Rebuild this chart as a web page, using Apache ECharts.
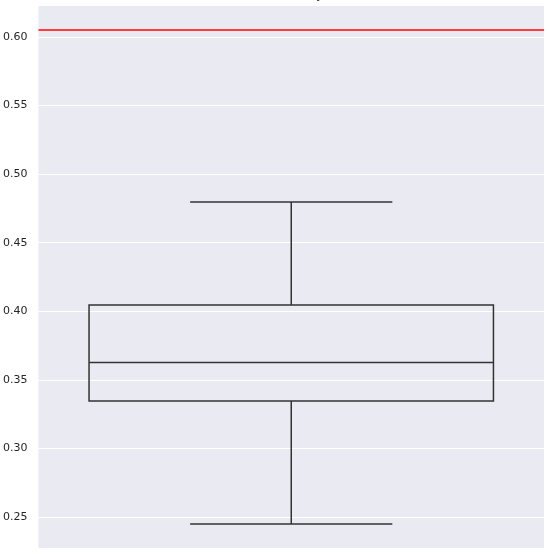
<!DOCTYPE html>
<html><head><meta charset="utf-8">
<script src="https://cdn.jsdelivr.net/npm/echarts@6/dist/echarts.min.js"></script>
<style>html,body{margin:0;padding:0;background:#fff}#c{width:549px;height:556px}</style>
</head><body><div id="c"></div>
<script>
const titleText = 'Accuracy';
const categories = ['accuracy'];
const boxStats = [[0.2449, 0.3346, 0.3626, 0.4046, 0.4797]]; // min, Q1, median, Q3, max
const referenceLine = 0.6051;
const yRange = [0.2274, 0.6226];

const boxData = boxStats.map((s, i) => [i].concat(s));
const lineStyleBox = {stroke: '#333333', lineWidth: 1.5, fill: null};

function renderBox(params, api) {
  const x = api.value(0);
  const band = api.size([1, 0])[0];
  const pMin = api.coord([x, api.value(1)]);
  const pQ1 = api.coord([x, api.value(2)]);
  const pMed = api.coord([x, api.value(3)]);
  const pQ3 = api.coord([x, api.value(4)]);
  const pMax = api.coord([x, api.value(5)]);
  const cx = pMed[0];
  const hw = band * 0.4;
  const cw = band * 0.2;
  const line = (x1, y1, x2, y2) => ({type: 'line', shape: {x1, y1, x2, y2}, style: lineStyleBox});
  return {
    type: 'group',
    children: [
      {type: 'rect', shape: {x: cx - hw, y: pQ3[1], width: 2 * hw, height: pQ1[1] - pQ3[1]}, style: lineStyleBox},
      line(cx - hw, pMed[1], cx + hw, pMed[1]),
      line(cx, pQ3[1], cx, pMax[1]),
      line(cx, pQ1[1], cx, pMin[1]),
      line(cx - cw, pMax[1], cx + cw, pMax[1]),
      line(cx - cw, pMin[1], cx + cw, pMin[1])
    ]
  };
}

function renderRefLine(params, api) {
  const cs = params.coordSys;
  const y = api.coord([0, api.value(0)])[1];
  return {type: 'line', shape: {x1: cs.x, y1: y, x2: cs.x + cs.width, y2: y},
          style: {stroke: '#ff3d3d', lineWidth: 2}};
}

const chart = echarts.init(document.getElementById('c'), null, {renderer: 'canvas'});
chart.setOption({
  backgroundColor: '#ffffff',
  animation: false,
  title: {
    text: titleText, left: 291, top: -16, textAlign: 'center',
    textStyle: {fontFamily: 'DejaVu Sans', fontSize: 12, fontWeight: 'normal', color: '#262626'}
  },
  grid: {left: 38, right: 5, top: 6, bottom: 8, show: true, backgroundColor: '#EAEAF2', borderWidth: 0},
  xAxis: {
    type: 'category', data: categories,
    axisLine: {show: false}, axisTick: {show: false}, axisLabel: {show: false}, splitLine: {show: false}
  },
  yAxis: {
    type: 'value', min: yRange[0], max: yRange[1], splitNumber: 8, minInterval: 0.05, maxInterval: 0.05,
    axisLine: {show: false}, axisTick: {show: false},
    axisLabel: {
      showMinLabel: false, showMaxLabel: false, margin: 11,
      fontFamily: 'DejaVu Sans', fontSize: 11, color: '#262626',
      formatter: v => v.toFixed(2)
    },
    splitLine: {show: true, showMinLine: false, showMaxLine: false, lineStyle: {color: '#ffffff', width: 1}}
  },
  series: [
    {type: 'custom', renderItem: renderBox, data: boxData, encode: {x: 0, y: [1, 2, 3, 4, 5]}, silent: true, clip: false},
    {type: 'custom', renderItem: renderRefLine, data: [[referenceLine]], encode: {y: 0}, silent: true}
  ]
});
</script></body></html>
